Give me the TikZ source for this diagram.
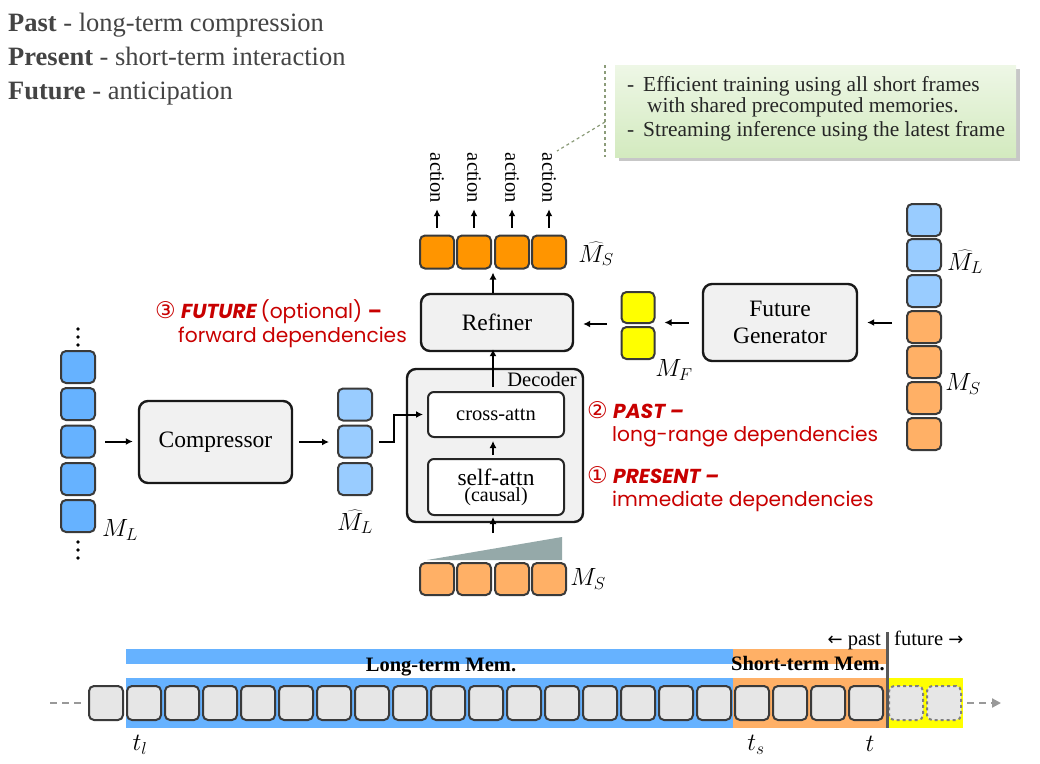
\documentclass[tikz,border=0pt]{standalone}
\usepackage{fontspec}
\setmainfont{Liberation Serif}
\newfontfamily\redfont{Poppins}
\newfontfamily\symfont{DejaVu Sans}
\usetikzlibrary{arrows.meta,calc}
\definecolor{hdr}{HTML}{444444}
\definecolor{cellb}{HTML}{3A3A3A}
\definecolor{boxfill}{HTML}{F1F1F1}
\definecolor{cellgray}{HTML}{E6E6E6}
\definecolor{blueM}{HTML}{66B2FF}
\definecolor{blueL}{HTML}{99CCFF}
\definecolor{orangeD}{HTML}{FF9500}
\definecolor{orangeL}{HTML}{FFB066}
\definecolor{yel}{HTML}{FFFF00}
\definecolor{redtxt}{HTML}{C80000}
\definecolor{trigray}{HTML}{95A9A9}
\definecolor{notetop}{HTML}{EEF7E6}
\definecolor{notebot}{HTML}{D3EABF}
\definecolor{notedashc}{HTML}{8C9C7A}
\definecolor{tlgray}{HTML}{999999}
\newcommand{\circd}[1]{{\symfont\fontsize{23}{22}\selectfont #1}}
\begin{document}
\begin{tikzpicture}[x=1pt,y=-1pt,
  cell/.style={draw=cellb,line width=2pt,rounded corners=5pt,minimum width=34pt,minimum height=32pt,inner sep=0pt},
  tcell/.style={cell,fill=cellgray,minimum height=34pt},
  fcell/.style={tcell,draw=gray,dashed},
  bigbox/.style={draw=black!90,line width=2.4pt,rounded corners=9pt,fill=boxfill,inner sep=0pt},
  subbox/.style={draw=black!85,line width=2pt,rounded corners=6pt,fill=white,inner sep=0pt,minimum width=136pt},
  arr/.style={-{Latex[length=7pt,width=7pt]},line width=2pt},
  hdrt/.style={text=hdr,font=\fontsize{26.5}{30}\selectfont,inner sep=0pt},
  notet/.style={text=black!85,font=\fontsize{21.4}{22}\selectfont,inner sep=0pt},
  redt/.style={text=redtxt,font=\redfont\fontsize{20.2}{22}\selectfont,inner sep=0pt},
  mlab/.style={font=\fontsize{26}{28}\selectfont,inner sep=0pt},
  notedash/.style={draw=notedashc,dashed,line width=1.2pt},
]
\useasboundingbox (0,0) rectangle (1040,763);

% ---------- header ----------
\node[hdrt,anchor=base west] (h1) at (8,31) {\textbf{Past} - long-term compression};
\node[hdrt,anchor=base west] (h2) at (8,65) {\textbf{Present} - short-term interaction};
\node[hdrt,anchor=base west] (h3) at (8,99) {\textbf{Future} - anticipation};

% ---------- note ----------
\fill[black!22] (619,69) rectangle (1020,161);
\shade[top color=notetop,bottom color=notebot] (615,65) rectangle (1016,157);
\node[notet,anchor=base west] (n1a) at (627,91) {-};
\node[notet,anchor=base west] (n1) at (643,91) {Efficient training using all short frames};
\node[notet,anchor=base west] (n2) at (647,112) {with shared precomputed memories.};
\node[notet,anchor=base west] (n3a) at (627,136) {-};
\node[notet,anchor=base west] (n3) at (643,136) {Streaming inference using the latest frame};
\coordinate (dtop) at (605,65);
\coordinate (dbot) at (605,157);
\coordinate (dmid) at (605,122);
\coordinate (dend) at (557,151);
\draw[notedash] (dtop) -- (dbot);
\draw[notedash] (dmid) -- (dend);

% ---------- M_S hat (top) ----------
\foreach \i/\x in {1/437,2/474,3/512,4/549}{
  \node[cell,fill=orangeD,minimum height=33pt] (mh\i) at (\x,252) {};
  \node[font=\fontsize{20.5}{22}\selectfont,rotate=-90,inner sep=1pt] (act\i) at (\x,178) {action};
  \draw[arr,shorten <=7pt,shorten >=5pt] (mh\i.north) -- (act\i.east);
}
\node[mlab] (lmhs) at (596,254) {$\widehat{M_S}$};

% ---------- Refiner ----------
\node[bigbox,minimum width=152pt,minimum height=57pt,font=\fontsize{23.5}{26}\selectfont] (ref) at (497,322.5) {Refiner};
\draw[arr,shorten >=3pt] ([xshift=-4pt]ref.north) -- ([xshift=-4pt]ref.north |- mh2.south);

% ---------- M_F ----------
\node[cell,fill=yel,minimum width=33pt,minimum height=31pt] (mf1) at (638,307.5) {};
\node[cell,fill=yel,minimum width=33pt,minimum height=32pt] (mf2) at (638,343) {};
\node[mlab] (lmf) at (674,370) {$M_F$};
\draw[arr,shorten <=13.5pt,shorten >=9pt] (mf1.south west) -- (mf1.south west -| ref.east);

% ---------- Future Generator ----------
\node[bigbox,minimum width=154pt,minimum height=77pt,align=center,font=\fontsize{23.5}{27}\selectfont] (fg) at (780,322.5) {Future\\Generator};
\draw[arr,shorten <=13pt,shorten >=9pt] (fg.west) -- (fg.west -| mf1.east);

% ---------- right column ----------
\foreach \i/\y in {1/220,2/255,3/291}{
  \node[cell,fill=blueL] (rc\i) at (924,\y) {};
}
\foreach \i/\y in {4/327,5/362,6/398,7/434}{
  \node[cell,fill=orangeL] (rc\i) at (924,\y) {};
}
\node[mlab] (lrml) at (965,262) {$\widehat{M_L}$};
\node[mlab] (lrms) at (963,384) {$M_S$};
\draw[arr,shorten <=14pt,shorten >=9pt] (fg.east -| rc4.west) -- (fg.east);

% ---------- left column M_L ----------
\foreach \i/\y in {1/367,2/404,3/441.5,4/479,5/516}{
  \node[cell,fill=blueM] (ml\i) at (78,\y) {};
}
\foreach \i/\y in {1/329,2/337,3/345}{
  \fill (78,\y) circle (1.9pt) coordinate (dtop\i);
}
\foreach \i/\y in {1/542,2/550,3/558}{
  \fill (78,\y) circle (1.9pt) coordinate (dbt\i);
}
\node[mlab] (lml) at (120,530) {$M_L$};

% ---------- Compressor ----------
\node[bigbox,minimum width=153pt,minimum height=82pt,font=\fontsize{23.5}{26}\selectfont] (comp) at (215.5,442) {Compressor};
\draw[arr,shorten <=9pt,shorten >=5pt] (ml3.east) -- (ml3.east -| comp.west);

% ---------- M_L hat ----------
\foreach \i/\y in {1/404.5,2/441.5,3/479}{
  \node[cell,fill=blueL] (mhl\i) at (355,\y) {};
}
\node[mlab] (lmhl) at (355,522) {$\widehat{M_L}$};
\draw[arr,shorten <=6pt,shorten >=8pt] (comp.east) -- (comp.east -| mhl2.west);

% ---------- Decoder ----------
\node[bigbox,minimum width=176pt,minimum height=153pt] (dec) at (495,445.5) {};
\node[font=\fontsize{20.5}{22}\selectfont,anchor=base east,inner sep=0pt] (declab) at (577,386) {Decoder};
\node[subbox,minimum height=45pt,font=\fontsize{20.5}{22}\selectfont] (cross) at (496,414.5) {cross-attn};
\node[subbox,minimum height=56pt,align=center] (self) at (496,487)
  {{\fontsize{23.5}{19}\selectfont self-attn}\\[1pt]{\fontsize{20}{20}\selectfont (causal)}};
\draw[arr,shorten <=3pt,shorten >=3pt] ([xshift=-3pt]self.north) -- ([xshift=-3pt]cross.south);
\draw[arr] ([xshift=6pt]mhl2.east) -- ++(15,0) |- ([xshift=-4pt]cross.west);
\draw[arr,shorten >=1pt] ([xshift=-3pt,yshift=4pt]cross.north) -- ([xshift=-3pt,yshift=4pt]cross.north |- ref.south);

% ---------- M_S bottom ----------
\fill[trigray] (427,560) -- (562,537) -- (562,560) -- cycle;
\foreach \i/\x in {1/437,2/474,3/512,4/549}{
  \node[cell,fill=orangeL] (ms\i) at (\x,579) {};
}
\node[mlab] (lms) at (588,579) {$M_S$};
\coordinate (msarr) at (493,533);
\draw[arr,shorten >=1pt] (msarr) -- (msarr |- self.south);

% ---------- red annotations ----------
\node[redt,anchor=base west] (r3a) at (155,318) {\circd{③} \textbf{\textit{FUTURE}}\,(optional) \textbf{–}};
\node[redt,anchor=base west] (r3b) at (178,342) {forward dependencies};
\node[redt,anchor=base west] (r2a) at (587,418) {\circd{②} \textbf{\textit{PAST –}}};
\node[redt,anchor=base west] (r2b) at (612,441) {long-range dependencies};
\node[redt,anchor=base west] (r1a) at (587,483) {\circd{①} \textbf{\textit{PRESENT –}}};
\node[redt,anchor=base west] (r1b) at (612,506) {immediate dependencies};

% ---------- timeline ----------
\fill[blueM] (126,649) rectangle (733,664);
\fill[orangeL] (733,649) rectangle (886,664);
\fill[blueM] (126,678) rectangle (733,728);
\fill[orangeL] (733,678) rectangle (886,728);
\fill[yel] (886,678) rectangle (963,728);
\node[font=\bfseries\fontsize{20.5}{22}\selectfont,anchor=base,inner sep=0pt] (ltm) at (441,671) {Long-term Mem.};
\node[font=\bfseries\fontsize{20.5}{22}\selectfont,anchor=base,inner sep=0pt] (stm) at (808,670) {Short-term Mem.};
\node[tcell] (tcm) at (106,703) {};
\foreach \i in {0,...,19}{
  \node[tcell] (tc\i) at ({144+38*\i},703) {};
}
\node[fcell] (tf1) at (906,703) {};
\node[fcell] (tf2) at (944,703) {};
\coordinate (vtop) at (887,632);
\coordinate (vbot) at (887,728);
\draw[line width=3pt,black!65] (vtop) -- (vbot);
\node[font=\fontsize{20.5}{22}\selectfont,anchor=base east,inner sep=0pt] (past) at (881,645) {{\symfont\fontsize{18}{20}\selectfont ←} past};
\node[font=\fontsize{20.5}{22}\selectfont,anchor=base west,inner sep=0pt] (futr) at (894,645) {future {\symfont\fontsize{18}{20}\selectfont →}};
\coordinate (lstart) at (50,703);
\coordinate (rend) at (1001,703);
\draw[tlgray,line width=2.2pt,dash pattern=on 7pt off 5pt] (lstart) -- ([xshift=-4pt]tcm.west);
\draw[tlgray,line width=2.2pt,dash pattern=on 7pt off 5pt,-{Triangle[length=9pt,width=9pt]}] ([xshift=5pt]tf2.east) -- (rend);
\node[mlab] (ltl) at (140,745) {$t_l$};
\node[mlab] (lts) at (756,745) {$t_s$};
\node[mlab] (lt) at (870,744) {$t$};
\end{tikzpicture}
\end{document}
